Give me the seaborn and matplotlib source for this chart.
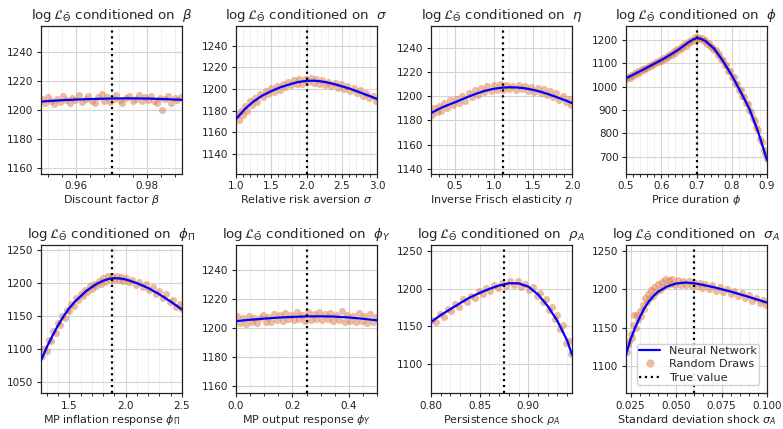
import matplotlib
matplotlib.use("Agg")
import matplotlib.pyplot as plt
import seaborn as sns
import pandas as pd
from matplotlib.ticker import MultipleLocator, AutoMinorLocator
from matplotlib.lines import Line2D

# ---------------- data ----------------
beta_curve_x = [0.95, 0.955, 0.96, 0.965, 0.97, 0.975, 0.98, 0.985, 0.99]
beta_curve_y = [1205.8, 1206.6, 1207.2, 1207.6, 1207.9, 1208.0, 1207.9, 1207.5, 1207.0]
beta_draws = [(0.9502,1207.5),(0.9511,1204.8),(0.9519,1208.9),(0.9528,1206.1),(0.9536,1203.9),(0.9545,1207.7),
    (0.9553,1205.2),(0.9562,1209.3),(0.9570,1206.6),(0.9581,1204.5),(0.9589,1208.2),(0.9597,1206.9),(0.9608,1210.1),
    (0.9615,1205.3),(0.9627,1207.8),(0.9633,1209.6),(0.9644,1206.0),(0.9652,1204.9),(0.9661,1208.7),(0.9673,1211.2),
    (0.9679,1206.4),(0.9688,1209.0),(0.9697,1205.6),(0.9706,1207.9),(0.9714,1210.4),(0.9725,1206.8),(0.9731,1204.7),
    (0.9742,1208.5),(0.9750,1209.8),(0.9761,1206.2),(0.9769,1207.4),(0.9778,1210.6),(0.9786,1205.9),(0.9795,1208.8),
    (0.9803,1207.1),(0.9812,1209.4),(0.9820,1206.5),(0.9829,1205.1),(0.9838,1208.3),(0.9842,1200.2),(0.9853,1207.6),
    (0.9861,1209.9),(0.9870,1204.6),(0.9879,1208.1),(0.9887,1206.7),(0.9896,1209.2)]

sigma_curve_x = [1.0, 1.125, 1.25, 1.375, 1.5, 1.625, 1.75, 1.875, 2.0, 2.125, 2.25, 2.375, 2.5, 2.625, 2.75, 2.875, 3.0]
sigma_curve_y = [1172.3, 1181.5, 1188.6, 1194.0, 1198.0, 1201.5, 1204.0, 1206.3, 1207.5, 1207.6, 1206.6, 1204.8,
                 1202.5, 1200.0, 1197.0, 1194.0, 1190.8]
sigma_draws = [(1.01,1175.8),(1.04,1171.4),(1.07,1179.6),(1.10,1176.2),(1.13,1184.3),(1.16,1180.1),(1.20,1188.7),
    (1.23,1185.0),(1.27,1191.9),(1.30,1188.2),(1.34,1195.4),(1.38,1192.6),(1.42,1198.3),(1.46,1195.1),(1.50,1200.6),
    (1.54,1197.2),(1.58,1202.8),(1.62,1199.5),(1.66,1204.7),(1.70,1201.8),(1.74,1206.3),(1.78,1203.5),(1.82,1208.4),
    (1.86,1205.0),(1.90,1209.6),(1.94,1204.9),(1.98,1208.8),(2.02,1206.1),(2.06,1210.2),(2.10,1205.4),(2.14,1208.9),
    (2.18,1204.6),(2.22,1207.8),(2.26,1203.9),(2.31,1206.7),(2.35,1202.5),(2.40,1205.9),(2.44,1201.3),(2.49,1204.6),
    (2.53,1199.8),(2.58,1203.1),(2.62,1198.2),(2.67,1201.0),(2.71,1195.9),(2.76,1198.8),(2.80,1193.7),(2.85,1196.6),
    (2.89,1191.8),(2.94,1193.9),(2.98,1189.2)]

eta_curve_x = [0.2, 0.3, 0.4, 0.5, 0.6, 0.7, 0.8, 0.9, 1.0, 1.1, 1.2, 1.3, 1.4, 1.5, 1.6, 1.7, 1.8, 1.9, 2.0]
eta_curve_y = [1186.0, 1189.5, 1192.3, 1194.8, 1197.5, 1200.2, 1202.6, 1204.6, 1206.1, 1207.0, 1207.4, 1207.2,
               1206.5, 1205.3, 1203.6, 1201.6, 1199.3, 1196.9, 1194.3]
eta_draws = [(0.21,1184.2),(0.24,1190.5),(0.27,1186.8),(0.30,1192.1),(0.33,1187.9),(0.37,1194.3),(0.40,1190.2),
    (0.44,1196.5),(0.48,1192.4),(0.52,1198.0),(0.56,1194.6),(0.60,1199.9),(0.64,1196.3),(0.68,1202.6),(0.72,1199.1),
    (0.76,1204.8),(0.80,1201.0),(0.84,1206.9),(0.88,1203.2),(0.92,1208.4),(0.96,1204.6),(1.00,1208.9),(1.04,1205.1),
    (1.08,1209.7),(1.12,1205.3),(1.16,1209.2),(1.20,1205.8),(1.24,1208.6),(1.28,1204.9),(1.32,1209.1),(1.36,1205.6),
    (1.40,1208.3),(1.44,1204.2),(1.48,1207.6),(1.52,1203.8),(1.56,1206.9),(1.60,1202.3),(1.64,1205.7),(1.68,1200.6),
    (1.72,1204.1),(1.76,1199.2),(1.80,1202.5),(1.84,1197.1),(1.88,1200.3),(1.92,1194.8),(1.96,1197.6),(1.99,1192.9)]

phi_curve_x = [0.5, 0.525, 0.55, 0.575, 0.6, 0.625, 0.65, 0.675, 0.69, 0.70, 0.71, 0.725, 0.75, 0.775, 0.8,
               0.825, 0.85, 0.875, 0.9]
phi_curve_y = [1036, 1055, 1074, 1094, 1114, 1136, 1160, 1188, 1202, 1208, 1206, 1196, 1163, 1110, 1048,
               978, 905, 805, 685]
phi_draws = [(0.500,1031),(0.505,1042),(0.510,1039),(0.515,1050),(0.520,1047),(0.525,1058),(0.530,1053),(0.535,1066),
    (0.540,1062),(0.545,1074),(0.550,1070),(0.555,1082),(0.560,1078),(0.565,1090),(0.570,1087),(0.575,1099),
    (0.580,1095),(0.585,1107),(0.590,1104),(0.595,1116),(0.600,1111),(0.605,1124),(0.610,1119),(0.615,1133),
    (0.620,1128),(0.625,1142),(0.630,1137),(0.635,1151),(0.640,1146),(0.645,1160),(0.650,1155),(0.655,1170),
    (0.660,1165),(0.665,1181),(0.670,1176),(0.675,1192),(0.680,1188),(0.685,1202),(0.690,1197),(0.695,1212),
    (0.700,1205),(0.705,1214),(0.710,1203),(0.715,1208),(0.720,1197),(0.725,1200),(0.730,1184),(0.735,1187),
    (0.740,1168),(0.745,1172),(0.750,1157),(0.755,1158),(0.760,1137),(0.765,1140),(0.770,1117),(0.775,1116),
    (0.780,1092),(0.785,1091),(0.790,1068),(0.795,1066),(0.800,1043),(0.805,1040),(0.810,1014),(0.815,1012),
    (0.820,985),(0.825,984),(0.830,958),(0.835,955),(0.840,929),(0.845,926),(0.850,899),(0.855,891),(0.860,865),
    (0.865,854),(0.870,826),(0.875,812),(0.880,776),(0.885,763),(0.890,729),(0.895,712),(0.899,690)]

phipi_curve_x = [1.25, 1.3, 1.35, 1.4, 1.45, 1.5, 1.55, 1.6, 1.65, 1.7, 1.75, 1.8, 1.85, 1.9, 1.95, 2.0, 2.1,
                 2.2, 2.3, 2.4, 2.5]
phipi_curve_y = [1083, 1103, 1120, 1136, 1150, 1162, 1172, 1180, 1188, 1194, 1199.5, 1203.5, 1206.3, 1207.5,
                 1207.0, 1205.6, 1200, 1192.5, 1183, 1172, 1160]
phipi_draws = [(1.26,1090),(1.28,1101),(1.30,1098),(1.32,1114),(1.34,1112),(1.36,1127),(1.38,1125),(1.40,1140),
    (1.42,1137),(1.44,1151),(1.46,1148),(1.48,1160),(1.50,1158),(1.52,1169),(1.54,1166),(1.56,1177),(1.58,1174),
    (1.60,1184),(1.62,1180),(1.64,1190),(1.66,1186),(1.68,1195),(1.70,1191),(1.72,1199),(1.74,1196),(1.76,1203),
    (1.78,1199),(1.80,1207),(1.82,1202),(1.84,1210),(1.86,1205),(1.88,1211),(1.90,1205),(1.92,1210),(1.94,1204),
    (1.96,1209),(1.98,1203),(2.00,1208),(2.03,1201),(2.06,1205),(2.09,1197),(2.12,1202),(2.15,1194),(2.18,1198),
    (2.21,1189),(2.24,1194),(2.27,1184),(2.30,1188),(2.33,1178),(2.36,1183),(2.39,1171),(2.42,1175),(2.45,1164),
    (2.48,1168),(2.50,1161)]

phiy_curve_x = [0.0, 0.05, 0.1, 0.15, 0.2, 0.25, 0.3, 0.35, 0.4, 0.45, 0.5]
phiy_curve_y = [1204.7, 1205.6, 1206.4, 1207.1, 1207.6, 1207.9, 1208.0, 1207.8, 1207.2, 1206.3, 1205.2]
phiy_draws = [(0.005,1207.9),(0.015,1203.6),(0.025,1206.8),(0.035,1202.9),(0.045,1208.2),(0.055,1204.1),
    (0.065,1207.0),(0.075,1203.3),(0.085,1206.5),(0.095,1209.1),(0.105,1204.4),(0.115,1207.7),(0.125,1203.8),
    (0.135,1209.3),(0.145,1205.5),(0.155,1208.6),(0.165,1204.9),(0.175,1210.4),(0.185,1206.1),(0.195,1209.0),
    (0.205,1205.2),(0.215,1210.7),(0.225,1206.4),(0.235,1208.8),(0.245,1204.6),(0.255,1210.9),(0.265,1205.7),
    (0.275,1209.5),(0.285,1206.0),(0.295,1211.1),(0.305,1205.1),(0.315,1209.8),(0.325,1206.3),(0.335,1210.2),
    (0.345,1204.8),(0.355,1208.9),(0.365,1205.4),(0.375,1211.6),(0.385,1204.3),(0.395,1209.2),(0.405,1205.0),
    (0.415,1208.1),(0.425,1203.9),(0.435,1210.3),(0.445,1204.7),(0.455,1207.9),(0.465,1203.4),(0.475,1209.7),
    (0.485,1204.2),(0.495,1207.3)]

rhoa_curve_x = [0.80, 0.81, 0.82, 0.83, 0.84, 0.85, 0.86, 0.87, 0.88, 0.89, 0.90, 0.91, 0.92, 0.93, 0.94, 0.945]
rhoa_curve_y = [1155.7, 1165, 1173, 1181, 1188.6, 1194.5, 1200, 1204.5, 1207.5, 1207.3, 1203, 1192.5, 1177,
                1157, 1131, 1112]
rhoa_draws = [(0.801,1159),(0.805,1156),(0.809,1166),(0.813,1163),(0.817,1173),(0.821,1170),(0.825,1180),
    (0.829,1176),(0.833,1186),(0.837,1182),(0.841,1191),(0.845,1188),(0.849,1197),(0.853,1193),(0.857,1201),
    (0.861,1197),(0.865,1205),(0.869,1201),(0.873,1208),(0.877,1204),(0.881,1211),(0.885,1205),(0.889,1210),
    (0.893,1203),(0.897,1207),(0.901,1199),(0.905,1202),(0.909,1190),(0.912,1194),(0.915,1183),(0.918,1187),
    (0.921,1172),(0.924,1176),(0.927,1160),(0.930,1165),(0.933,1146),(0.936,1152),(0.939,1128),(0.942,1130),
    (0.944,1113)]

sigmaa_curve_x = [0.0225, 0.025, 0.0275, 0.03, 0.0325, 0.035, 0.0375, 0.04, 0.045, 0.05, 0.055, 0.06, 0.065,
                  0.07, 0.08, 0.09, 0.1]
sigmaa_curve_y = [1115, 1135, 1150, 1163, 1175, 1184, 1191, 1196.5, 1203.5, 1207.4, 1208.7, 1207.8, 1205.5,
                  1203, 1197, 1190, 1182.6]
sigmaa_draws = [(0.0228,1118),(0.0235,1128),(0.0242,1133),(0.0250,1142),(0.0257,1137),(0.0264,1153),(0.0271,1166),
    (0.0278,1149),(0.0285,1167),(0.0292,1160),(0.0300,1172),(0.0308,1165),(0.0316,1180),(0.0324,1174),(0.0332,1189),
    (0.0340,1183),(0.0348,1194),(0.0356,1188),(0.0364,1199),(0.0372,1191),(0.0380,1203),(0.0390,1196),(0.0400,1207),
    (0.0410,1199),(0.0420,1210),(0.0430,1203),(0.0440,1213),(0.0450,1205),(0.0460,1212),(0.0470,1207),(0.0480,1213),
    (0.0495,1206),(0.0510,1212),(0.0525,1206),(0.0540,1211),(0.0555,1205),(0.0570,1211),(0.0585,1204),(0.0600,1210),
    (0.0615,1204),(0.0630,1208),(0.0645,1202),(0.0660,1207),(0.0680,1200),(0.0700,1205),(0.0720,1198),(0.0740,1203),
    (0.0760,1196),(0.0780,1200),(0.0800,1194),(0.0820,1198),(0.0840,1191),(0.0860,1195),(0.0880,1188),(0.0900,1192),
    (0.0920,1185),(0.0940,1189),(0.0960,1182),(0.0980,1186),(0.0995,1180)]

param_symbols = [r"\beta", r"\sigma", r"\eta", r"\phi", r"\phi_{\Pi}", r"\phi_Y", r"\rho_A", r"\sigma_A"]
param_names = ["Discount factor", "Relative risk aversion", "Inverse Frisch elasticity", "Price duration",
               "MP inflation response", "MP output response", "Persistence shock", "Standard deviation shock"]
true_values = [0.97, 2.0, 1.12, 0.70, 1.875, 0.25, 0.875, 0.06]
x_limits = [(0.95, 0.99), (1.0, 3.0), (0.2, 2.0), (0.5, 0.9), (1.25, 2.5), (0.0, 0.5), (0.80, 0.945), (0.0225, 0.1)]
y_limits = [(1156, 1258), (1122, 1258), (1136, 1258), (627, 1260), (1034, 1257), (1155, 1257), (1061, 1258), (1065, 1257)]
x_major = [0.02, 0.5, 0.5, 0.1, 0.5, 0.2, 0.05, 0.025]
x_minor_div = [5, 5, 5, 5, 5, 4, 5, 5]
y_major = [20, 20, 20, 100, 50, 20, 50, 50]

curves = [(beta_curve_x, beta_curve_y), (sigma_curve_x, sigma_curve_y), (eta_curve_x, eta_curve_y),
          (phi_curve_x, phi_curve_y), (phipi_curve_x, phipi_curve_y), (phiy_curve_x, phiy_curve_y),
          (rhoa_curve_x, rhoa_curve_y), (sigmaa_curve_x, sigmaa_curve_y)]
draws = [beta_draws, sigma_draws, eta_draws, phi_draws, phipi_draws, phiy_draws, rhoa_draws, sigmaa_draws]

# ---------------- plotting ----------------
sns.set_theme(style="ticks")
plt.rcParams["font.family"] = ["DejaVu Sans"]
plt.rcParams["mathtext.fontset"] = "dejavusans"

BLUE = "#0000ff"
ORANGE = "#dd8452"

fig, axes = plt.subplots(2, 4, figsize=(7.83, 4.29), dpi=100)
fig.subplots_adjust(left=0.0524, right=0.9796, top=0.9394, bottom=0.0839, wspace=0.383, hspace=0.486)

for i, ax in enumerate(axes.flat):
    cx, cy = curves[i]
    dx = [p[0] for p in draws[i]]
    dy = [p[1] for p in draws[i]]
    ax.grid(which="major", color="#d4d4d4", linewidth=0.8, zorder=0)
    ax.grid(which="minor", axis="x", color="#ececec", linewidth=0.6, zorder=0)
    sns.scatterplot(x=dx, y=dy, ax=ax, color=ORANGE, alpha=0.55, s=26, linewidth=0, zorder=2)
    sns.lineplot(x=cx, y=cy, ax=ax, color=BLUE, linewidth=1.6, sort=False, estimator=None, zorder=3)
    ax.axvline(true_values[i], color="black", linestyle=":", linewidth=1.6, zorder=4)
    ax.set_xlim(*x_limits[i])
    ax.set_ylim(*y_limits[i])
    ax.xaxis.set_major_locator(MultipleLocator(x_major[i]))
    ax.xaxis.set_minor_locator(AutoMinorLocator(x_minor_div[i]))
    ax.yaxis.set_major_locator(MultipleLocator(y_major[i]))
    ax.set_axisbelow(True)
    ax.tick_params(axis="both", which="major", labelsize=7.5, length=3, width=0.8, colors="#222222", pad=2.5)
    ax.tick_params(axis="x", which="minor", length=2, width=0.7)
    for sp in ax.spines.values():
        sp.set_visible(True)
        sp.set_color("#222222")
        sp.set_linewidth(0.9)
    ax.set_xlabel(f"{param_names[i]} ${param_symbols[i]}$", fontsize=8, labelpad=1.5)
    ax.set_ylabel("")
    ax.set_title(r"$\log\mathcal{L}_{\bar{\Theta}}$ conditioned on  " + f"${param_symbols[i]}$",
                 fontsize=9.6, pad=5)

handles = [Line2D([0], [0], color=BLUE, lw=1.6),
           Line2D([0], [0], marker="o", linestyle="", markersize=6, markerfacecolor=ORANGE,
                  markeredgewidth=0, alpha=0.55),
           Line2D([0], [0], color="black", linestyle=":", lw=1.6)]
axes.flat[-1].legend(handles, ["Neural Network", "Random Draws", "True value"], loc="lower left",
                     bbox_to_anchor=(0.075, 0.054), fontsize=8.1, frameon=True, framealpha=0.9,
                     borderpad=0.2, borderaxespad=0.0, labelspacing=0.3, handlelength=1.9,
                     handletextpad=0.8)

fig.savefig("out.png", dpi=100)
